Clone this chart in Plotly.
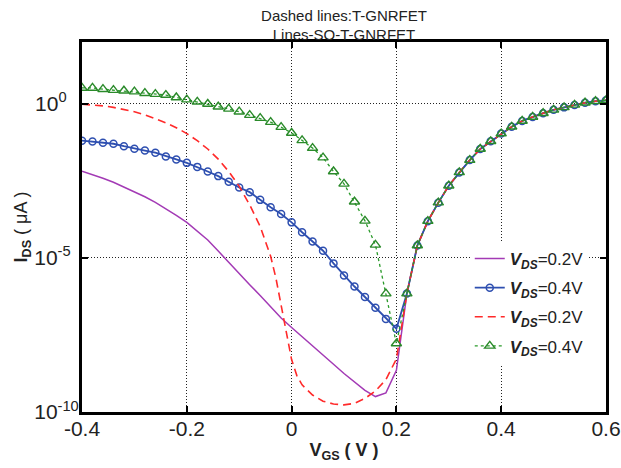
import plotly.graph_objects as go

# Gate voltage samples (V)
vgs_grid = [-0.40, -0.38, -0.36, -0.34, -0.32, -0.30, -0.28, -0.26, -0.24, -0.22,
            -0.20, -0.18, -0.16, -0.14, -0.12, -0.10, -0.08, -0.06, -0.04, -0.02,
            0.00, 0.02, 0.04, 0.06, 0.08, 0.10, 0.12, 0.14, 0.16, 0.18, 0.20]
vgs_right = [0.22, 0.24, 0.26, 0.28, 0.30, 0.32, 0.34, 0.36, 0.38, 0.40,
             0.42, 0.44, 0.46, 0.48, 0.50, 0.52, 0.54, 0.56, 0.58, 0.60]
vgs_red_left = [-0.40, -0.38, -0.36, -0.34, -0.32, -0.30, -0.28, -0.26, -0.24, -0.22,
                -0.20, -0.18, -0.16, -0.14, -0.12, -0.10, -0.08, -0.06, -0.04, -0.03,
                -0.02, -0.01, 0.00, 0.01, 0.02, 0.04, 0.06, 0.08, 0.10, 0.12,
                0.14, 0.16, 0.18, 0.20]

# log10(I_DS / uA)
log_common_right = [-6.16, -4.60, -3.81, -3.21, -2.66, -2.23, -1.83, -1.47, -1.22, -0.97,
                    -0.75, -0.56, -0.43, -0.31, -0.20, -0.12, -0.04, 0.03, 0.08, 0.11]
log_so_02 = [-2.19, -2.30, -2.42, -2.55, -2.70, -2.86, -3.02, -3.20, -3.40, -3.62,
             -3.85, -4.12, -4.42, -4.78, -5.15, -5.50, -5.87, -6.22, -6.60, -6.95,
             -7.26, -7.55, -7.85, -8.15, -8.45, -8.75, -9.03, -9.30, -9.50, -9.38, -8.65]
log_so_04 = [-1.20, -1.23, -1.27, -1.30, -1.38, -1.46, -1.52, -1.59, -1.71, -1.81,
             -1.92, -2.05, -2.20, -2.35, -2.53, -2.72, -2.87, -3.12, -3.36, -3.58,
             -3.85, -4.17, -4.47, -4.77, -5.18, -5.57, -5.93, -6.27, -6.62, -6.98, -7.30]
log_t_02 = [-0.02, -0.04, -0.07, -0.12, -0.18, -0.26, -0.36, -0.48, -0.62, -0.78,
            -0.97, -1.20, -1.47, -1.80, -2.20, -2.68, -3.28, -3.98, -4.95, -5.65,
            -6.55, -7.47, -8.30, -8.82, -9.12, -9.45, -9.65, -9.74, -9.77, -9.72,
            -9.56, -9.32, -8.95, -8.28]
log_t_04 = [0.51, 0.51, 0.47, 0.44, 0.42, 0.39, 0.34, 0.31, 0.28, 0.20,
            0.13, 0.06, -0.01, -0.10, -0.17, -0.26, -0.37, -0.47, -0.60, -0.76,
            -0.95, -1.19, -1.44, -1.75, -2.20, -2.60, -3.18, -3.80, -4.58, -6.16, -7.78]

x_ticks = [-0.4, -0.2, 0.0, 0.2, 0.4, 0.6]
x_tick_labels = ["-0.4", "-0.2", "0", "0.2", "0.4", "0.6"]
y_ticks = [1e-10, 1e-5, 1e0]
NB = "\u00a0"
y_tick_labels = ["10<sup>-10</sup>", "10<sup>-5" + NB * 2 + "</sup>", "10<sup>0" + NB * 3 + "</sup>"]

legend_names = ["<b><i>V<sub>DS</sub></i></b>=0.2V", "<b><i>V<sub>DS</sub></i></b>=0.4V",
                "<b><i>V<sub>DS</sub></i></b>=0.2V", "<b><i>V<sub>DS</sub></i></b>=0.4V"]


def to_current(logs):
    return [10 ** v for v in logs]


fig = go.Figure()
fig.add_trace(go.Scatter(
    x=vgs_grid + vgs_right, y=to_current(log_so_02 + log_common_right),
    mode="lines", name=legend_names[0], legendgroup="a",
    line=dict(color="#A33AB5", width=1.5)))
fig.add_trace(go.Scatter(
    x=vgs_grid + vgs_right, y=to_current(log_so_04 + log_common_right),
    mode="lines+markers", name=legend_names[1], legendgroup="b",
    line=dict(color="#2E4FB0", width=1.8),
    marker=dict(symbol="circle-open", size=7, color="#2E4FB0", line=dict(width=1.5))))
fig.add_trace(go.Scatter(
    x=vgs_red_left + vgs_right, y=to_current(log_t_02 + log_common_right),
    mode="lines", name=legend_names[2], legendgroup="c",
    line=dict(color="#FF2A2A", width=1.6, dash="8px,5px")))
fig.add_trace(go.Scatter(
    x=vgs_grid + vgs_right, y=to_current(log_t_04 + log_common_right),
    mode="lines+markers", name=legend_names[3], legendgroup="d",
    line=dict(color="#2A9A2A", width=1.3, dash="dot"),
    marker=dict(symbol="triangle-up-open", size=9, color="#2A8A2A", line=dict(width=1.4))))

axis_common = dict(
    showline=True, linecolor="black", linewidth=3, mirror="ticks",
    ticks="inside", ticklen=6, tickwidth=2, tickcolor="black",
    showgrid=True, gridcolor="#222222", gridwidth=1, griddash="1px,2px",
    zeroline=False, automargin=False,
    tickfont=dict(size=21, color="#222222", family="Liberation Sans, Arial, sans-serif"),
)

fig.update_xaxes(range=[-0.4, 0.6], tickvals=x_ticks, ticktext=x_tick_labels,
                 ticklabelstandoff=-4,
                 title=dict(text="<b>V<sub>GS</sub> ( V )</b>", standoff=5,
                            font=dict(size=18, color="#222222")),
                 **axis_common)
fig.update_yaxes(type="log", range=[-10, 2], tickvals=y_ticks, ticktext=y_tick_labels,
                 ticklabelstandoff=-4,
                 title=dict(text="<b>I<sub>DS</sub></b> ( μA )", standoff=2,
                            font=dict(size=18, color="#222222")),
                 **axis_common)

fig.update_layout(
    width=621, height=468,
    margin=dict(l=82, r=15, t=42, b=56),
    paper_bgcolor="white", plot_bgcolor="white",
    font=dict(family="Liberation Sans, Arial, sans-serif", color="#222222"),
    title=dict(text="Dashed lines:T-GNRFET<br>Lines-SO-T-GNRFET",
               x=0.5, xref="paper", xanchor="center",
               yref="container", y=0.956, yanchor="top",
               font=dict(size=15, color="#222222")),
    legend=dict(x=0.74, xanchor="left", y=0.462, yanchor="top",
                bgcolor="white", borderwidth=0, tracegroupgap=4,
                font=dict(size=17, color="#222222")),
)

fig.write_html("out.html", config={"displayModeBar": False},
               post_script="document.body.style.margin='0';")
